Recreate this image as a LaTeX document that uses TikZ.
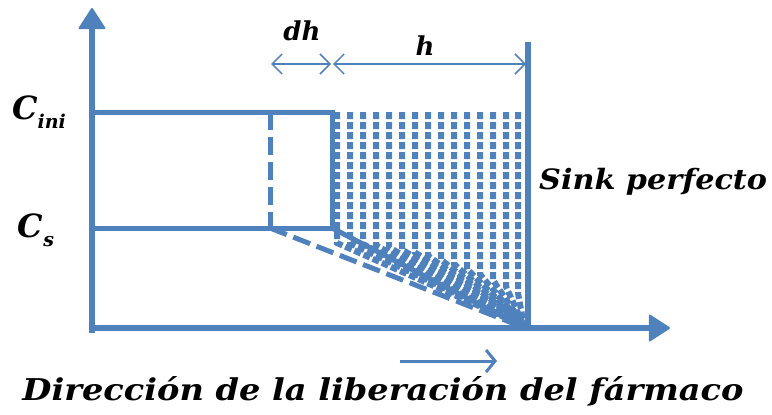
\documentclass[tikz,border=0pt]{standalone}
\usepackage{fontspec}
\setmainfont{DejaVu Serif}
\usetikzlibrary{arrows.meta}
\definecolor{ob}{HTML}{4F81BD}
\tikzset{
  axis/.style={ob, line width=6pt, -{Triangle[length=22pt,width=28pt,line width=2pt,round,fill=ob]}},
  thick line/.style={ob, line width=5pt},
  dim/.style={ob, line width=1.5pt, {Straight Barb[length=10pt,width=20pt]}-{Straight Barb[length=10pt,width=20pt]}},
  hatch/.style={ob, line width=6pt, dash pattern=on 7pt off 3pt},
  lbl/.style={font=\bfseries\itshape, text=black, inner sep=0pt}
}
\begin{document}
\begin{tikzpicture}[x=1pt,y=-1pt]
\useasboundingbox (0,0) rectangle (772,415);
% hatch lines
\foreach \xx in {337,350,363,376,389,402,415,428,441,454,467,480,493,506,518}{
  \pgfmathsetmacro{\yb}{243+((\xx-337)/181)^2*50}
  \draw[hatch] (\xx,112) -- (\xx,\yb) -- (524,326);
}
% coordinates
\coordinate (Ytop) at (92,8);
\coordinate (Xend) at (670,328);
\coordinate (Ci0) at (92,112);
\coordinate (Ci1) at (332,112);
\coordinate (Cs0) at (92,228);
\coordinate (Cs1) at (332,228);
\coordinate (Dt) at (270,112);
\coordinate (Db) at (270,228);
\coordinate (Corner) at (525,328);
\coordinate (Stop) at (528,42);
\coordinate (Sbot) at (528,331);
% axes
\draw[axis] (92,333) -- (Ytop);
\draw[axis] (89,328) -- (Xend);
% sink
\draw[ob, line width=6pt] (Stop) -- (Sbot);
% rectangles
\draw[thick line] (Ci0) -- (Ci1) -- (Cs1);
\draw[thick line] (Cs0) -- (Cs1);
\draw[ob, line width=5pt, dash pattern=on 18pt off 7pt] (Dt) -- (Db);
\draw[ob, line width=5pt, dash pattern=on 18pt off 7pt] (Db) -- (Corner);
\draw[ob, line width=5pt] (Cs1) -- (Corner);
% dimensions
\coordinate (d0) at (271,64);
\coordinate (d1) at (331,64);
\coordinate (d2) at (333,64);
\coordinate (d3) at (526,64);
\draw[dim] (d0) -- (d1);
\draw[dim] (d2) -- (d3);
\node[lbl, font=\bfseries\itshape\fontsize{26}{30}\selectfont] (dh) at (302,31) {dh};
\node[lbl, font=\bfseries\itshape\fontsize{26}{30}\selectfont] (h) at (425,46) {h};
% direction arrow
\coordinate (a0) at (400,361);
\coordinate (a1) at (497,361);
\draw[ob, line width=3pt, -{Straight Barb[length=9pt,width=22pt,line width=3pt]}] (a0) -- (a1);
% labels
\node[lbl, font=\bfseries\itshape\fontsize{32}{34}\selectfont] (cini) at (39,112) {C\raisebox{-0.28em}{\fontsize{19}{20}\selectfont ini}};
\node[lbl, font=\bfseries\itshape\fontsize{32}{34}\selectfont] (cs) at (36,230) {C\raisebox{-0.28em}{\fontsize{19}{20}\selectfont s}};
\node[lbl, font=\bfseries\itshape\fontsize{28}{30}\selectfont, anchor=west] (sink) at (539,182) {\scalebox{1.08}[1]{Sink perfecto}};
\node[lbl, font=\bfseries\itshape\fontsize{30}{32}\selectfont] (dir) at (383,391) {\scalebox{1.12}[1]{Dirección de la liberación del fármaco}};
\end{tikzpicture}
\end{document}
